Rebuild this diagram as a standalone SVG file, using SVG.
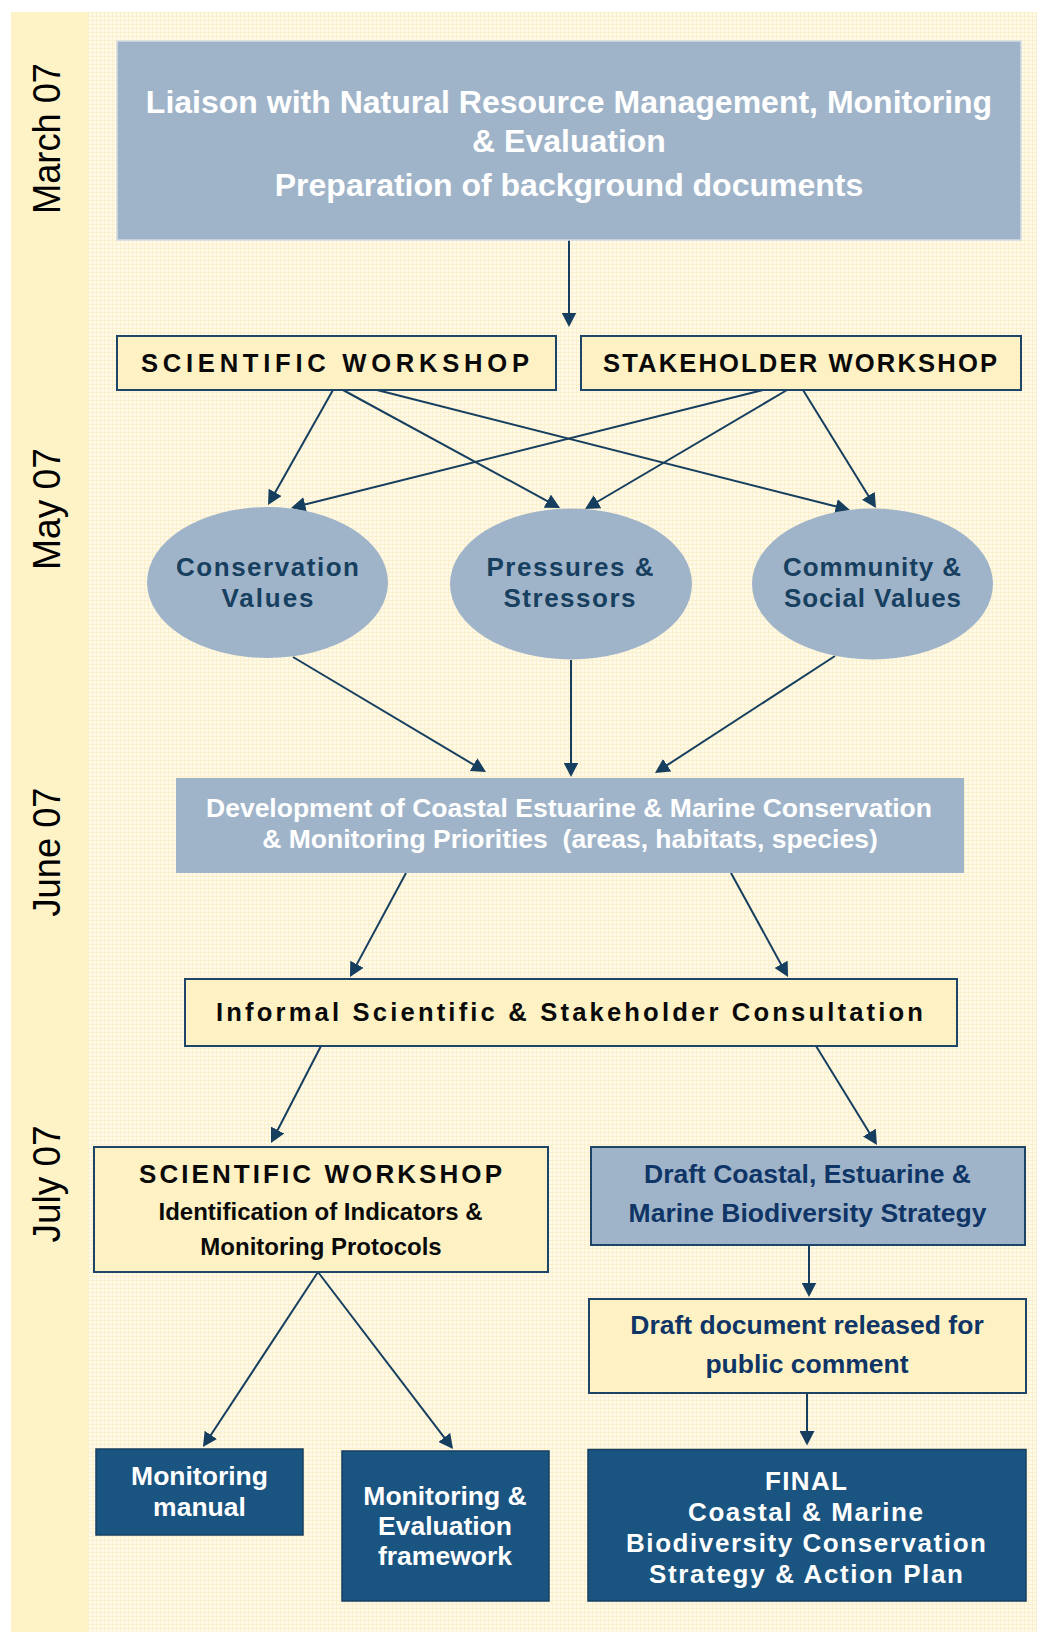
<svg xmlns="http://www.w3.org/2000/svg" width="1042" height="1632" viewBox="0 0 1042 1632">
<style>
.bold{font-family:"Liberation Sans",Arial,sans-serif;font-weight:bold}
.date{font-family:"Liberation Sans",Arial,sans-serif;font-size:38px;fill:#000}
.white{fill:#ffffff}
.navy{fill:#173F5F}
.dblue{fill:#0F3566}
.black{fill:#0A0A0A}
.conn line{stroke:#163E5E;stroke-width:2;marker-end:url(#ah)}
.yel{fill:#FEF2C4;stroke:#1E4468;stroke-width:2}
.blue{fill:#A0B4C9}
.dark{fill:#1A5480;stroke:#143F60;stroke-width:1.5}
</style>
<defs>
<pattern id="grid" width="4" height="4" patternUnits="userSpaceOnUse">
<rect width="4" height="4" fill="#FFFAE8"/>
<path d="M0,0.5 H4 M0.5,0 V4" stroke="#FBF0CE" stroke-width="1"/>
</pattern>
<marker id="ah" markerUnits="userSpaceOnUse" markerWidth="15" markerHeight="15" viewBox="0 0 15 15" refX="11.5" refY="7.5" orient="auto">
<path d="M0,0 L14.5,7.5 L0,15 z" fill="#163E5E"/>
</marker>
</defs>
<rect width="1042" height="1632" fill="#ffffff"/>
<rect x="88" y="12" width="949" height="1620" fill="url(#grid)"/>
<rect x="11" y="12" width="77" height="1620" fill="#FEF3C6"/>

<g id="dates">
<text class="date" text-anchor="middle" transform="translate(60,138.5) rotate(-90)" textLength="151" lengthAdjust="spacingAndGlyphs">March 07</text>
<text class="date" text-anchor="middle" transform="translate(60,509) rotate(-90)" textLength="122" lengthAdjust="spacingAndGlyphs">May 07</text>
<text class="date" text-anchor="middle" transform="translate(60,852) rotate(-90)" textLength="129" lengthAdjust="spacingAndGlyphs">June 07</text>
<text class="date" text-anchor="middle" transform="translate(60,1184) rotate(-90)" textLength="117" lengthAdjust="spacingAndGlyphs">July 07</text>
</g>

<g id="connectors" class="conn">
<line x1="569" y1="240" x2="569" y2="324"/>
<line x1="333" y1="390" x2="269.5" y2="502.4"/>
<line x1="343" y1="390" x2="557.4" y2="506.6"/>
<line x1="377" y1="390" x2="847.1" y2="509.3"/>
<line x1="763" y1="390" x2="293.9" y2="507.3"/>
<line x1="787" y1="390" x2="587.6" y2="507.5"/>
<line x1="803" y1="390" x2="874.4" y2="505.5"/>
<line x1="293" y1="657" x2="483.4" y2="770.5"/>
<line x1="571" y1="660" x2="571" y2="774"/>
<line x1="835" y1="656" x2="657.5" y2="771.4"/>
<line x1="406" y1="873" x2="351.4" y2="974.4"/>
<line x1="731" y1="873" x2="786.6" y2="974.4"/>
<line x1="321" y1="1046" x2="272.4" y2="1140.3"/>
<line x1="816" y1="1046" x2="875.4" y2="1142.4"/>
<line x1="318" y1="1272" x2="204.6" y2="1444.5"/>
<line x1="318" y1="1272" x2="451.2" y2="1446.6"/>
<line x1="809" y1="1245" x2="809" y2="1294"/>
<line x1="807" y1="1393" x2="807" y2="1442.5"/>
</g>

<g id="liaison">
<rect x="117" y="41" width="904" height="199" class="blue" stroke="#D3DBE3" stroke-width="1.5"/>
<text class="bold white" font-size="32" text-anchor="middle" x="569" y="113">Liaison with Natural Resource Management, Monitoring</text>
<text class="bold white" font-size="32" text-anchor="middle" x="569" y="152">&amp; Evaluation</text>
<text class="bold white" font-size="32" text-anchor="middle" x="569" y="196">Preparation of background documents</text>
</g>

<g id="sci-workshop">
<rect x="117" y="336" width="439" height="54" class="yel"/>
<text class="bold black" font-size="25.6" x="141" y="372" textLength="388" lengthAdjust="spacing">SCIENTIFIC WORKSHOP</text>
</g>

<g id="stake-workshop">
<rect x="581" y="336" width="440" height="54" class="yel"/>
<text class="bold black" font-size="25.6" x="603" y="372" textLength="394" lengthAdjust="spacing">STAKEHOLDER WORKSHOP</text>
</g>

<g id="conservation">
<ellipse cx="267.5" cy="582.5" rx="120.5" ry="75.5" class="blue"/>
<text class="bold navy" font-size="26" text-anchor="middle" x="267.5" y="576" textLength="183" lengthAdjust="spacing">Conservation</text>
<text class="bold navy" font-size="26" text-anchor="middle" x="267.5" y="607" textLength="92" lengthAdjust="spacing">Values</text>
</g>

<g id="pressures">
<ellipse cx="571" cy="584" rx="121" ry="75.5" class="blue"/>
<text class="bold navy" font-size="26" text-anchor="middle" x="570" y="576" textLength="167" lengthAdjust="spacing">Pressures &amp;</text>
<text class="bold navy" font-size="26" text-anchor="middle" x="569.5" y="607" textLength="132" lengthAdjust="spacing">Stressors</text>
</g>

<g id="community">
<ellipse cx="872.5" cy="584" rx="120.5" ry="75.5" class="blue"/>
<text class="bold navy" font-size="26" text-anchor="middle" x="872" y="576" textLength="178" lengthAdjust="spacing">Community &amp;</text>
<text class="bold navy" font-size="26" text-anchor="middle" x="872.5" y="607" textLength="177" lengthAdjust="spacing">Social Values</text>
</g>

<g id="development">
<rect x="176" y="778" width="788" height="95" class="blue"/>
<text class="bold white" font-size="26.5" text-anchor="middle" x="569" y="817">Development of Coastal Estuarine &amp; Marine Conservation</text>
<text class="bold white" font-size="26.5" text-anchor="middle" x="570" y="848" style="white-space:pre">&amp; Monitoring Priorities  (areas, habitats, species)</text>
</g>

<g id="informal">
<rect x="185" y="979" width="772" height="67" class="yel"/>
<text class="bold black" font-size="25.6" x="216" y="1021" textLength="707" lengthAdjust="spacing">Informal Scientific &amp; Stakeholder Consultation</text>
</g>

<g id="sci-workshop-2">
<rect x="94" y="1147" width="454" height="125" class="yel"/>
<text class="bold black" font-size="26" x="139" y="1183" textLength="363" lengthAdjust="spacing">SCIENTIFIC WORKSHOP</text>
<text class="bold black" font-size="24" text-anchor="middle" x="320.5" y="1220">Identification of Indicators &amp;</text>
<text class="bold black" font-size="24" text-anchor="middle" x="321" y="1255">Monitoring Protocols</text>
</g>

<g id="draft-strategy">
<rect x="591" y="1147" width="434" height="98" class="blue" stroke="#1E4468" stroke-width="2"/>
<text class="bold dblue" font-size="26.5" text-anchor="middle" x="807.5" y="1183">Draft Coastal, Estuarine &amp;</text>
<text class="bold dblue" font-size="26.5" text-anchor="middle" x="807.5" y="1222">Marine Biodiversity Strategy</text>
</g>

<g id="public-comment">
<rect x="589" y="1299" width="437" height="94" class="yel"/>
<text class="bold dblue" font-size="26.5" text-anchor="middle" x="807" y="1334">Draft document released for</text>
<text class="bold dblue" font-size="26.5" text-anchor="middle" x="807" y="1373">public comment</text>
</g>

<g id="monitoring-manual">
<rect x="96" y="1449" width="207" height="86" class="dark"/>
<text class="bold white" font-size="26.5" text-anchor="middle" x="199.5" y="1485">Monitoring</text>
<text class="bold white" font-size="26.5" text-anchor="middle" x="199.5" y="1516">manual</text>
</g>

<g id="me-framework">
<rect x="342" y="1451" width="207" height="150" class="dark"/>
<text class="bold white" font-size="26.5" text-anchor="middle" x="445" y="1505">Monitoring &amp;</text>
<text class="bold white" font-size="26.5" text-anchor="middle" x="445" y="1535">Evaluation</text>
<text class="bold white" font-size="26.5" text-anchor="middle" x="445" y="1565">framework</text>
</g>

<g id="final">
<rect x="588" y="1449.5" width="438" height="151.5" class="dark"/>
<text class="bold white" font-size="26" text-anchor="middle" x="806" y="1489.5" textLength="82" lengthAdjust="spacing">FINAL</text>
<text class="bold white" font-size="26" text-anchor="middle" x="805.5" y="1521" textLength="235" lengthAdjust="spacing">Coastal &amp; Marine</text>
<text class="bold white" font-size="26" text-anchor="middle" x="806" y="1552" textLength="360" lengthAdjust="spacing">Biodiversity Conservation</text>
<text class="bold white" font-size="26" text-anchor="middle" x="806" y="1582.5" textLength="314" lengthAdjust="spacing">Strategy &amp; Action Plan</text>
</g>
</svg>
